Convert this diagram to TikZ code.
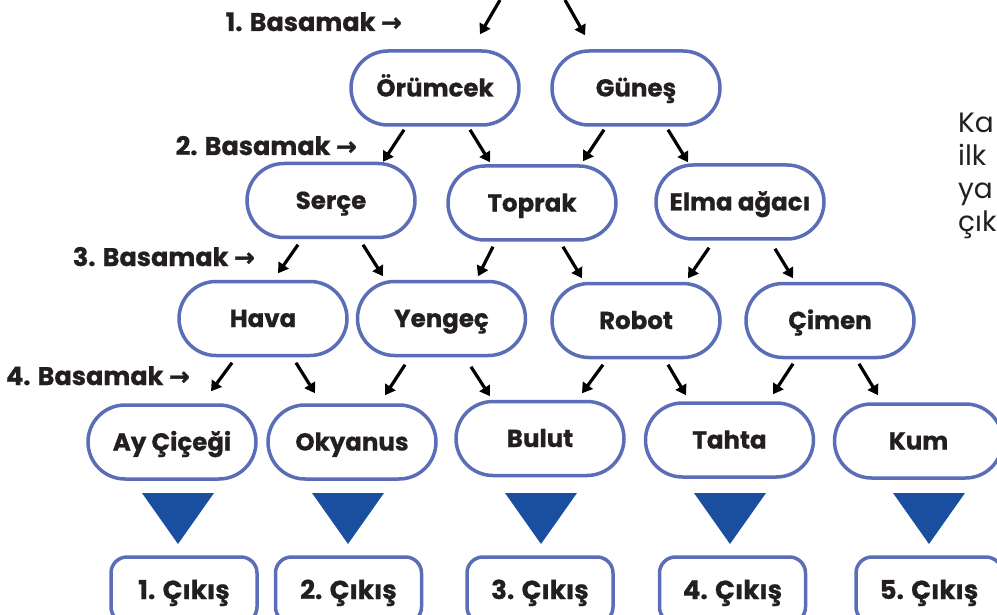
\documentclass[tikz,border=0pt]{standalone}
\usepackage{fontspec}
\setmainfont{Poppins}[BoldFeatures={FakeBold=0.8}]
\newfontfamily\arrowfont{DejaVu Sans}[BoldFeatures={FakeBold=1.5}]
\usetikzlibrary{shapes.misc,arrows.meta,calc}
\definecolor{pillblue}{HTML}{5A6EB8}
\definecolor{triblue}{HTML}{1A4F9F}
\definecolor{ink}{HTML}{231F20}
\tikzset{
  pill/.style={rounded rectangle, draw=pillblue, line width=3.5pt, minimum width=168pt, minimum height=74pt, fill=white, text=ink, font=\bfseries\fontsize{24.5}{28}\selectfont, inner sep=0pt, text height=17pt, text depth=0pt},
  exitbox/.style={rectangle, rounded corners=16pt, draw=pillblue, line width=3.5pt, minimum width=146pt, minimum height=66pt, fill=white, text=ink, font=\bfseries\fontsize{26}{30}\selectfont, inner sep=0pt, text height=18pt, text depth=0pt},
  arr/.style={draw=black, line width=3.2pt, -{Triangle[length=10pt,width=12pt]}},
  lbl/.style={anchor=east, text=ink, font=\bfseries\fontsize{25.5}{30}\selectfont, inner sep=0pt, text height=18pt, text depth=0pt},
  side/.style={anchor=base west, text=ink, font=\fontsize{28}{32}\selectfont, inner sep=0pt},
  tri/.style={fill=triblue}
}
\newcommand{\lblarrow}{{\arrowfont\bfseries\fontsize{25}{28}\selectfont →}}
\begin{document}
\begin{tikzpicture}[x=1pt,y=-1pt]
\path[use as bounding box] (0,0) rectangle (997,615);
\clip (0,0) rectangle (997,615);

% level labels
\node[lbl] (l1) at (402,22) {1. Basamak \lblarrow};
\node[lbl] (l2) at (357,146) {2. Basamak \lblarrow};
\node[lbl] (l3) at (255,257) {3. Basamak \lblarrow};
\node[lbl] (l4) at (190,376) {4. Basamak \lblarrow};

% side text (cut by the page edge)
\node[side] (s1) at (958,133) {Ka};
\node[side] (s2) at (958,166) {ilk};
\node[side] (s3) at (958,199) {ya};
\node[side] (s4) at (958,232) {çık};

% pills
\node[pill] (oru) at (435,88) {Örümcek};
\node[pill] (gun) at (636,88) {Güneş};
\node[pill] (ser) at (331,200.5) {Serçe};
\node[pill] (top) at (532,203) {Toprak};
\node[pill] (elm) at (740,202) {Elma ağacı};
\node[pill] (hav) at (263,318.5) {Hava};
\node[pill] (yen) at (441.5,318.5) {Yengeç};
\node[pill] (rob) at (636,320.5) {Robot};
\node[pill] (cim) at (830,320.5) {Çimen};
\node[pill] (ay)  at (172,442) {Ay Çiçeği};
\node[pill] (oky) at (352,442) {Okyanus};
\node[pill] (bul) at (540,438.5) {Bulut};
\node[pill] (tah) at (729.5,440) {Tahta};
\node[pill] (kum) at (918.5,441) {Kum};

% exits
\node[exitbox] (c1) at (184,590) {1. Çıkış};
\node[exitbox] (c2) at (348.5,590) {2. Çıkış};
\node[exitbox] (c3) at (540,590) {3. Çıkış};
\node[exitbox] (c4) at (732.5,590) {4. Çıkış};
\node[exitbox] (c5) at (929,590) {5. Çıkış};

% triangles
\fill[tri] (142,493) -- (214,493) -- (178,544) -- cycle;
\fill[tri] (312,493) -- (384,493) -- (348,544) -- cycle;
\fill[tri] (505,493) -- (577,493) -- (541,544) -- cycle;
\fill[tri] (694,493) -- (766,493) -- (730,544) -- cycle;
\fill[tri] (893,493) -- (965,493) -- (929,544) -- cycle;

% top arrows
\coordinate (t1) at (500,0);
\coordinate (t2) at (565,0);
\draw[arr] (t1) -- ($(oru.north)+(45,-15)$);
\draw[arr] (t2) -- ($(gun.north)+(-51,-14)$);

% level 1 -> 2
\draw[arr] ($(oru.south)+(-31,3)$) -- ($(ser.north)+(52,0)$);
\draw[arr] ($(oru.south)+(35,3)$) -- ($(top.north)+(-42,-2)$);
\draw[arr] ($(gun.south)+(-32,3)$) -- ($(top.north)+(51,-3)$);
\draw[arr] ($(gun.south)+(32,3)$) -- ($(elm.north)+(-52,-1)$);

% level 2 -> 3
\draw[arr] ($(ser.south)+(-33,5.5)$) -- ($(hav.north)+(15,-6.5)$);
\draw[arr] ($(ser.south)+(32,5.5)$) -- ($(yen.north)+(-58.5,-3.5)$);
\draw[arr] ($(top.south)+(-39,5)$) -- ($(yen.north)+(36.5,-3.5)$);
\draw[arr] ($(top.south)+(31,5)$) -- ($(rob.north)+(-54,-3.5)$);
\draw[arr] ($(elm.south)+(-31,7)$) -- ($(rob.north)+(52,-3.5)$);
\draw[arr] ($(elm.south)+(35,8)$) -- ($(cim.north)+(-37,-3.5)$);

% level 3 -> 4
\draw[arr] ($(hav.south)+(-31,5.5)$) -- ($(ay.north)+(39,-12)$);
\draw[arr] ($(hav.south)+(33,5.5)$) -- ($(oky.north)+(-37,-10)$);
\draw[arr] ($(yen.south)+(-36.5,7.5)$) -- ($(oky.north)+(33,-8)$);
\draw[arr] ($(yen.south)+(29.5,9.5)$) -- ($(bul.north)+(-50,-3.5)$);
\draw[arr] ($(rob.south)+(-33,5.5)$) -- ($(bul.north)+(42,-6.5)$);
\draw[arr] ($(rob.south)+(32,5.5)$) -- ($(tah.north)+(-43.5,-6)$);
\draw[arr] ($(cim.south)+(-37,4.5)$) -- ($(tah.north)+(43.5,-7)$);
\draw[arr] ($(cim.south)+(29,4.5)$) -- ($(kum.north)+(-40.5,-7)$);
\end{tikzpicture}
\end{document}
